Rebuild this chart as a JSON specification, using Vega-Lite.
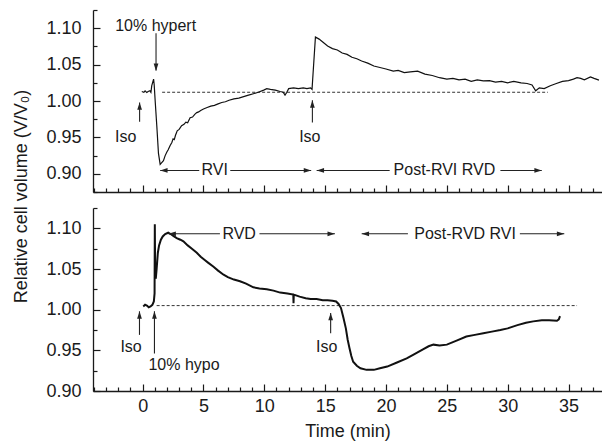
{
  "$schema": "https://vega.github.io/schema/vega-lite/v6.json",
  "padding": {"left": 11, "top": 9, "right": 0, "bottom": 0},
  "bounds": "flush",
  "spacing": 16,
  "config": {
    "view": {"stroke": null},
    "font": "Liberation Sans",
    "axis": {
      "grid": false,
      "domainColor": "#1a1a1a",
      "domainWidth": 1.3,
      "tickColor": "#1a1a1a",
      "tickWidth": 1.2,
      "labelFont": "Liberation Sans",
      "labelFontSize": 18,
      "labelColor": "#1a1a1a",
      "titleFont": "Liberation Sans",
      "titleFontSize": 18,
      "titleFontWeight": "normal",
      "titleColor": "#1a1a1a"
    }
  },
  "datasets": {
    "upperTrace": [
      {"t": -0.07, "v": 1.013}, {"t": 0.1, "v": 1.012}, {"t": 0.2, "v": 1.014}, {"t": 0.34, "v": 1.0116}, {"t": 0.45, "v": 1.013}, {"t": 0.6, "v": 1.014}, {"t": 0.68, "v": 1.012}, {"t": 0.75, "v": 1.021}, {"t": 0.9, "v": 1.03}, {"t": 0.95, "v": 1.022}, {"t": 1.03, "v": 1.0}, {"t": 1.17, "v": 0.964}, {"t": 1.3, "v": 0.928}, {"t": 1.44, "v": 0.913}, {"t": 1.55, "v": 0.915}, {"t": 1.71, "v": 0.918}, {"t": 1.85, "v": 0.925}, {"t": 1.99, "v": 0.93}, {"t": 2.1, "v": 0.933}, {"t": 2.26, "v": 0.939}, {"t": 2.4, "v": 0.943}, {"t": 2.5, "v": 0.948}, {"t": 2.6, "v": 0.947}, {"t": 2.7, "v": 0.953}, {"t": 2.84, "v": 0.959}, {"t": 3.0, "v": 0.961}, {"t": 3.2, "v": 0.966}, {"t": 3.4, "v": 0.968}, {"t": 3.55, "v": 0.971}, {"t": 3.7, "v": 0.97}, {"t": 3.9, "v": 0.977}, {"t": 4.1, "v": 0.978}, {"t": 4.3, "v": 0.982}, {"t": 4.45, "v": 0.984}, {"t": 4.6, "v": 0.985}, {"t": 4.77, "v": 0.987}, {"t": 5.0, "v": 0.989}, {"t": 5.3, "v": 0.991}, {"t": 5.6, "v": 0.993}, {"t": 5.9, "v": 0.994}, {"t": 6.2, "v": 0.996}, {"t": 6.5, "v": 0.998}, {"t": 6.8, "v": 0.999}, {"t": 7.1, "v": 1.001}, {"t": 7.5, "v": 1.003}, {"t": 7.9, "v": 1.004}, {"t": 8.3, "v": 1.006}, {"t": 8.7, "v": 1.008}, {"t": 9.1, "v": 1.01}, {"t": 9.5, "v": 1.012}, {"t": 9.95, "v": 1.015}, {"t": 10.2, "v": 1.017}, {"t": 10.5, "v": 1.016}, {"t": 10.9, "v": 1.015}, {"t": 11.3, "v": 1.013}, {"t": 11.55, "v": 1.012}, {"t": 11.7, "v": 1.008}, {"t": 11.85, "v": 1.012}, {"t": 12.0, "v": 1.017}, {"t": 12.4, "v": 1.018}, {"t": 12.8, "v": 1.017}, {"t": 13.2, "v": 1.018}, {"t": 13.5, "v": 1.017}, {"t": 13.8, "v": 1.018}, {"t": 13.92, "v": 1.016}, {"t": 14.2, "v": 1.0878}, {"t": 14.5, "v": 1.085}, {"t": 14.8, "v": 1.081}, {"t": 15.2, "v": 1.0755}, {"t": 15.6, "v": 1.072}, {"t": 16.0, "v": 1.07}, {"t": 16.4, "v": 1.066}, {"t": 16.8, "v": 1.064}, {"t": 17.2, "v": 1.06}, {"t": 17.6, "v": 1.058}, {"t": 18.0, "v": 1.055}, {"t": 18.5, "v": 1.052}, {"t": 19.0, "v": 1.048}, {"t": 19.5, "v": 1.046}, {"t": 20.0, "v": 1.044}, {"t": 20.6, "v": 1.041}, {"t": 21.0, "v": 1.042}, {"t": 21.5, "v": 1.039}, {"t": 22.0, "v": 1.04}, {"t": 22.6, "v": 1.041}, {"t": 23.2, "v": 1.037}, {"t": 23.8, "v": 1.035}, {"t": 24.4, "v": 1.032}, {"t": 25.0, "v": 1.03}, {"t": 25.5, "v": 1.031}, {"t": 26.0, "v": 1.029}, {"t": 26.5, "v": 1.03}, {"t": 27.0, "v": 1.027}, {"t": 27.5, "v": 1.029}, {"t": 28.0, "v": 1.0276}, {"t": 28.5, "v": 1.028}, {"t": 29.0, "v": 1.026}, {"t": 29.5, "v": 1.027}, {"t": 30.0, "v": 1.025}, {"t": 30.5, "v": 1.027}, {"t": 31.1, "v": 1.025}, {"t": 31.6, "v": 1.024}, {"t": 32.0, "v": 1.022}, {"t": 32.3, "v": 1.014}, {"t": 32.6, "v": 1.018}, {"t": 33.0, "v": 1.017}, {"t": 33.5, "v": 1.021}, {"t": 34.0, "v": 1.024}, {"t": 34.5, "v": 1.027}, {"t": 35.0, "v": 1.028}, {"t": 35.4, "v": 1.03}, {"t": 35.7, "v": 1.032}, {"t": 36.0, "v": 1.031}, {"t": 36.3, "v": 1.029}, {"t": 36.8, "v": 1.033}, {"t": 37.1, "v": 1.031}, {"t": 37.5, "v": 1.0286}
    ],
    "lowerTrace": [
      {"t": 0.05, "v": 1.004}, {"t": 0.2, "v": 1.006}, {"t": 0.35, "v": 1.005}, {"t": 0.5, "v": 1.003}, {"t": 0.65, "v": 1.004}, {"t": 0.8, "v": 1.006}, {"t": 0.92, "v": 1.01}, {"t": 0.98, "v": 1.02}, {"t": 1.0, "v": 1.105}, {"t": 1.03, "v": 1.04}, {"t": 1.08, "v": 1.038}, {"t": 1.15, "v": 1.05}, {"t": 1.25, "v": 1.07}, {"t": 1.35, "v": 1.079}, {"t": 1.5, "v": 1.086}, {"t": 1.65, "v": 1.09}, {"t": 1.85, "v": 1.093}, {"t": 2.1, "v": 1.0946}, {"t": 2.3, "v": 1.093}, {"t": 2.55, "v": 1.0905}, {"t": 2.8, "v": 1.088}, {"t": 3.1, "v": 1.086}, {"t": 3.35, "v": 1.084}, {"t": 3.7, "v": 1.079}, {"t": 4.05, "v": 1.075}, {"t": 4.45, "v": 1.07}, {"t": 4.77, "v": 1.065}, {"t": 5.1, "v": 1.061}, {"t": 5.4, "v": 1.0575}, {"t": 5.8, "v": 1.053}, {"t": 6.2, "v": 1.048}, {"t": 6.65, "v": 1.043}, {"t": 7.0, "v": 1.04}, {"t": 7.5, "v": 1.037}, {"t": 8.0, "v": 1.035}, {"t": 8.5, "v": 1.032}, {"t": 9.1, "v": 1.0275}, {"t": 9.6, "v": 1.026}, {"t": 10.2, "v": 1.025}, {"t": 10.75, "v": 1.0234}, {"t": 11.3, "v": 1.021}, {"t": 11.9, "v": 1.02}, {"t": 12.38, "v": 1.0185}, {"t": 12.4, "v": 1.008}, {"t": 12.42, "v": 1.0185}, {"t": 12.9, "v": 1.016}, {"t": 13.4, "v": 1.014}, {"t": 13.8, "v": 1.013}, {"t": 14.3, "v": 1.013}, {"t": 14.8, "v": 1.0115}, {"t": 15.2, "v": 1.0115}, {"t": 15.6, "v": 1.011}, {"t": 15.9, "v": 1.01}, {"t": 16.1, "v": 1.007}, {"t": 16.3, "v": 1.002}, {"t": 16.5, "v": 0.99}, {"t": 16.7, "v": 0.977}, {"t": 16.85, "v": 0.963}, {"t": 17.0, "v": 0.9526}, {"t": 17.15, "v": 0.943}, {"t": 17.3, "v": 0.936}, {"t": 17.6, "v": 0.931}, {"t": 17.9, "v": 0.928}, {"t": 18.4, "v": 0.926}, {"t": 19.0, "v": 0.926}, {"t": 19.5, "v": 0.928}, {"t": 20.1, "v": 0.93}, {"t": 20.9, "v": 0.935}, {"t": 21.7, "v": 0.94}, {"t": 22.3, "v": 0.945}, {"t": 23.0, "v": 0.951}, {"t": 23.5, "v": 0.955}, {"t": 23.9, "v": 0.957}, {"t": 24.4, "v": 0.956}, {"t": 25.0, "v": 0.957}, {"t": 25.8, "v": 0.962}, {"t": 26.6, "v": 0.967}, {"t": 27.3, "v": 0.969}, {"t": 28.0, "v": 0.971}, {"t": 28.7, "v": 0.973}, {"t": 29.4, "v": 0.975}, {"t": 30.0, "v": 0.977}, {"t": 30.8, "v": 0.981}, {"t": 31.5, "v": 0.984}, {"t": 32.1, "v": 0.9856}, {"t": 32.8, "v": 0.987}, {"t": 33.4, "v": 0.987}, {"t": 34.05, "v": 0.9864}, {"t": 34.2, "v": 0.988}, {"t": 34.3, "v": 0.992}
    ],
    "upperRef": [{"t": 1.6, "t2": 33.3, "v": 1.012}],
    "lowerRef": [{"t": 1.15, "t2": 35.7, "v": 1.005}],
    "upperArrows": [
      {"t": 1.1, "v": 1.093, "t2": 1.1, "v2": 1.042},
      {"t": -0.25, "v": 0.9716, "t2": -0.25, "v2": 0.998},
      {"t": 13.95, "v": 0.9706, "t2": 13.95, "v2": 1.001},
      {"t": 1.44, "v": 0.9046, "t2": 4.65, "v2": 0.9046},
      {"t": 7.2, "v": 0.9046, "t2": 13.85, "v2": 0.9046},
      {"t": 14.3, "v": 0.9046, "t2": 20.3, "v2": 0.9046},
      {"t": 29.4, "v": 0.9046, "t2": 32.8, "v2": 0.9046}
    ],
    "upperHeads": [
      {"t": 1.1, "v": 1.0413, "dir": "down"},
      {"t": -0.25, "v": 0.998, "dir": "up"},
      {"t": 13.95, "v": 1.001, "dir": "up"},
      {"t": 1.44, "v": 0.9046, "dir": "left"},
      {"t": 13.85, "v": 0.9046, "dir": "right"},
      {"t": 14.3, "v": 0.9046, "dir": "left"},
      {"t": 32.8, "v": 0.9046, "dir": "right"}
    ],
    "upperText": [
      {"t": 1.07, "v": 1.1027, "label": "10% hypert"},
      {"t": -1.4, "v": 0.951, "label": "Iso"},
      {"t": 13.74, "v": 0.951, "label": "Iso"},
      {"t": 5.92, "v": 0.9046, "label": "RVI"},
      {"t": 24.8, "v": 0.9046, "label": "Post-RVI RVD"}
    ],
    "lowerArrows": [
      {"t": -0.26, "v": 0.969, "t2": -0.26, "v2": 0.998},
      {"t": 0.97, "v": 0.946, "t2": 0.97, "v2": 0.998},
      {"t": 15.45, "v": 0.971, "t2": 15.45, "v2": 0.996},
      {"t": 2.12, "v": 1.0933, "t2": 6.35, "v2": 1.0933},
      {"t": 9.6, "v": 1.0933, "t2": 15.8, "v2": 1.0933},
      {"t": 18.0, "v": 1.0933, "t2": 21.8, "v2": 1.0933},
      {"t": 31.0, "v": 1.0933, "t2": 34.65, "v2": 1.0933}
    ],
    "lowerHeads": [
      {"t": -0.26, "v": 0.998, "dir": "up"},
      {"t": 0.97, "v": 0.998, "dir": "up"},
      {"t": 15.45, "v": 0.996, "dir": "up"},
      {"t": 2.12, "v": 1.0933, "dir": "left"},
      {"t": 15.8, "v": 1.0933, "dir": "right"},
      {"t": 18.0, "v": 1.0933, "dir": "left"},
      {"t": 34.65, "v": 1.0933, "dir": "right"}
    ],
    "lowerText": [
      {"t": -0.95, "v": 0.9547, "label": "Iso"},
      {"t": 3.4, "v": 0.932, "label": "10% hypo"},
      {"t": 15.13, "v": 0.9547, "label": "Iso"},
      {"t": 7.93, "v": 1.0933, "label": "RVD"},
      {"t": 26.5, "v": 1.0933, "label": "Post-RVD RVI"}
    ]
  },
  "vconcat": [
    {
      "width": 509,
      "height": 182,
      "encoding": {
        "x": {
          "field": "t", "type": "quantitative",
          "scale": {"domain": [-4.08, 37.75], "nice": false, "zero": false},
          "axis": {
            "title": null,
            "values": [-4,-3,-2,-1,0,1,2,3,4,5,6,7,8,9,10,11,12,13,14,15,16,17,18,19,20,21,22,23,24,25,26,27,28,29,30,31,32,33,34,35,36,37],
            "labels": false,
            "tickSize": {"condition": {"test": "datum.value % 5 === 0", "value": -7}, "value": -4}
          }
        },
        "y": {
          "field": "v", "type": "quantitative",
          "scale": {"domain": [0.875, 1.125], "nice": false, "zero": false},
          "axis": {
            "title": null,
            "values": [0.875,0.9,0.925,0.95,0.975,1.0,1.025,1.05,1.075,1.1,1.125],
            "format": ".2f",
            "labelExpr": "abs(round(datum.value*1000)) % 50 === 0 ? datum.label : ''",
            "labelPadding": 19,
            "tickSize": {"condition": {"test": "abs(round(datum.value*1000)) % 50 === 0", "value": -7}, "value": -4}
          }
        }
      },
      "layer": [
        {"data": {"name": "upperRef"}, "mark": {"type": "rule", "color": "#333", "strokeWidth": 1, "strokeDash": [3, 2]}, "encoding": {"x2": {"field": "t2"}}},
        {"data": {"name": "upperTrace"}, "mark": {"type": "line", "color": "#111", "strokeWidth": 1.2}, "encoding": {}},
        {"data": {"name": "upperArrows"}, "mark": {"type": "rule", "color": "#222", "strokeWidth": 1.1}, "encoding": {"x2": {"field": "t2"}, "y2": {"field": "v2"}}},
        {"data": {"name": "upperHeads"}, "mark": {"type": "point", "filled": true, "opacity": 1, "color": "#222", "size": 220},
          "encoding": {"shape": {"field": "dir", "type": "nominal", "legend": null,
            "scale": {"domain": ["up", "down", "left", "right"], "range": ["M0,0L-0.32,1L0.32,1Z", "M0,0L-0.32,-1L0.32,-1Z", "M0,0L1,-0.32L1,0.32Z", "M0,0L-1,-0.32L-1,0.32Z"]}}}},
        {"data": {"name": "upperText"}, "mark": {"type": "text", "fontSize": 16, "font": "Liberation Sans", "color": "#1a1a1a", "baseline": "middle", "align": "center"}, "encoding": {"text": {"field": "label"}}}
      ]
    },
    {
      "width": 509,
      "height": 183,
      "encoding": {
        "x": {
          "field": "t", "type": "quantitative",
          "scale": {"domain": [-4.08, 37.75], "nice": false, "zero": false},
          "axis": {
            "title": "Time (min)",
            "values": [-4,-3,-2,-1,0,1,2,3,4,5,6,7,8,9,10,11,12,13,14,15,16,17,18,19,20,21,22,23,24,25,26,27,28,29,30,31,32,33,34,35,36,37],
            "format": "d",
            "labelExpr": "datum.value % 5 === 0 ? datum.label : ''",
            "labelPadding": 13.5,
            "titlePadding": 7,
            "tickSize": {"condition": {"test": "datum.value % 5 === 0", "value": -7}, "value": -4}
          }
        },
        "y": {
          "field": "v", "type": "quantitative",
          "scale": {"domain": [0.9, 1.125], "nice": false, "zero": false},
          "axis": {
            "title": "Relative cell volume (V/V₀)",
            "titleX": -72,
            "titleY": -12,
            "titleBaseline": "middle",
            "values": [0.9,0.925,0.95,0.975,1.0,1.025,1.05,1.075,1.1,1.125],
            "format": ".2f",
            "labelExpr": "abs(round(datum.value*1000)) % 50 === 0 ? datum.label : ''",
            "labelPadding": 19,
            "tickSize": {"condition": {"test": "abs(round(datum.value*1000)) % 50 === 0", "value": -7}, "value": -4}
          }
        }
      },
      "layer": [
        {"data": {"name": "lowerRef"}, "mark": {"type": "rule", "color": "#333", "strokeWidth": 1, "strokeDash": [3, 2]}, "encoding": {"x2": {"field": "t2"}}},
        {"data": {"name": "lowerTrace"}, "mark": {"type": "line", "color": "#111", "strokeWidth": 2}, "encoding": {}},
        {"data": {"name": "lowerArrows"}, "mark": {"type": "rule", "color": "#222", "strokeWidth": 1.1}, "encoding": {"x2": {"field": "t2"}, "y2": {"field": "v2"}}},
        {"data": {"name": "lowerHeads"}, "mark": {"type": "point", "filled": true, "opacity": 1, "color": "#222", "size": 220},
          "encoding": {"shape": {"field": "dir", "type": "nominal", "legend": null,
            "scale": {"domain": ["up", "down", "left", "right"], "range": ["M0,0L-0.32,1L0.32,1Z", "M0,0L-0.32,-1L0.32,-1Z", "M0,0L1,-0.32L1,0.32Z", "M0,0L-1,-0.32L-1,0.32Z"]}}}},
        {"data": {"name": "lowerText"}, "mark": {"type": "text", "fontSize": 16, "font": "Liberation Sans", "color": "#1a1a1a", "baseline": "middle", "align": "center"}, "encoding": {"text": {"field": "label"}}}
      ]
    }
  ]
}
